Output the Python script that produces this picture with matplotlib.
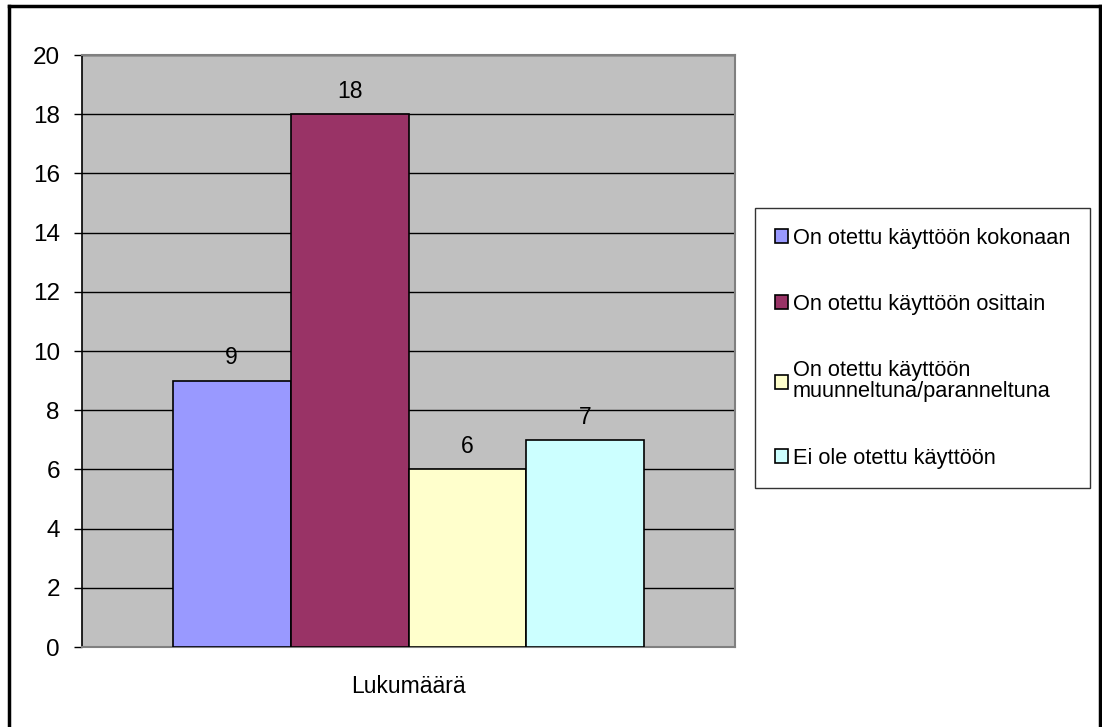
import matplotlib
matplotlib.use('Agg')
import matplotlib.pyplot as plt
from matplotlib.lines import Line2D
import numpy as np

plt.rcParams['font.family'] = ['Liberation Sans', 'DejaVu Sans']

category = 'Lukumäärä'
series_labels = ['On otettu käyttöön kokonaan',
                 'On otettu käyttöön osittain',
                 'On otettu käyttöön\nmuunneltuna/paranneltuna',
                 'Ei ole otettu käyttöön']
values = [9, 18, 6, 7]
colors = ['#9999FF', '#993366', '#FFFFCC', '#CCFFFF']
yticks = [0, 2, 4, 6, 8, 10, 12, 14, 16, 18, 20]

fig = plt.figure(figsize=(11.02, 7.27), dpi=100)
ax = fig.add_axes([82 / 1102, 80 / 727, 653 / 1102, 592 / 727])
ax.set_facecolor('#C0C0C0')

# pylväät yhden kategorian ympärille
w = 0.1805
n = len(values)
for i, (v, c, lab) in enumerate(zip(values, colors, series_labels)):
    x = (i - (n - 1) / 2) * w
    bars = ax.bar(x, v, width=w, color=c, edgecolor='black', linewidth=1.2,
                  label=lab, zorder=3)
    ax.bar_label(bars, labels=[str(v)], padding=8, fontsize=16.5)

ax.set_xlim(-0.5, 0.5)
ax.set_ylim(0, 20)
ax.set_yticks(yticks)
ax.set_xticks([0])
ax.set_xticklabels([category], fontsize=16.5)
ax.tick_params(axis='x', length=0, pad=20)
ax.tick_params(axis='y', direction='out', length=6, width=1, pad=10, labelsize=17.5)
ax.yaxis.grid(True, color='black', linewidth=1, zorder=1)
ax.set_axisbelow(True)

for s in ['top', 'right', 'bottom']:
    ax.spines[s].set_color('#808080')
    ax.spines[s].set_linewidth(1.5)
ax.spines['left'].set_color('black')
ax.spines['left'].set_linewidth(1.2)

leg = ax.legend(loc='upper left', bbox_to_anchor=(755 / 1102, 1 - 208 / 727),
                bbox_transform=fig.transFigure, fontsize=15.7, frameon=True,
                fancybox=False, shadow=False, handlelength=0.62, handleheight=0.62,
                handletextpad=0.2, labelspacing=2.08, borderpad=0.9,
                borderaxespad=0)
for t in leg.get_texts():
    t.set_linespacing(1.0)
leg.get_frame().set_edgecolor('black')
leg.get_frame().set_linewidth(1.0)

# ulkokehys
fig.add_artist(Line2D([9 / 1102, 9 / 1102], [0, 1 - 6 / 727], color='black',
                      linewidth=2.5, transform=fig.transFigure))
fig.add_artist(Line2D([9 / 1102, 1100 / 1102], [1 - 6 / 727, 1 - 6 / 727],
                      color='black', linewidth=2.5, transform=fig.transFigure))
fig.add_artist(Line2D([1100 / 1102, 1100 / 1102], [0, 1 - 6 / 727], color='black',
                      linewidth=2.5, transform=fig.transFigure))

fig.savefig('out.png', dpi=100)
